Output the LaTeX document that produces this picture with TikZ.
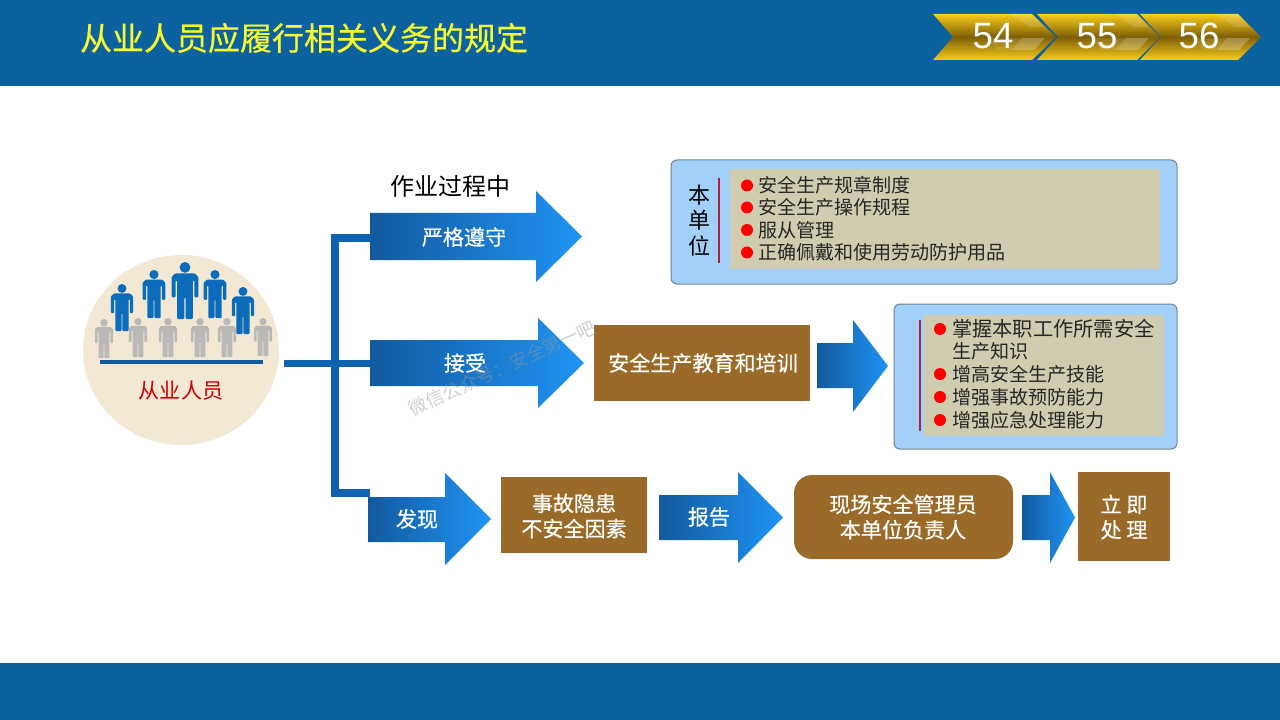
\documentclass[tikz,border=0pt]{standalone}
\usepackage{fontspec}
\setmainfont{Noto Sans CJK SC}
\newfontfamily\numfont{Liberation Sans}
\newfontfamily\heavycjk[FakeBold=0.45]{Noto Sans CJK SC}
\usetikzlibrary{calc,shapes.geometric}
\definecolor{barblue}{HTML}{0B629F}
\definecolor{titley}{HTML}{F8FA30}
\definecolor{adark}{HTML}{125A9E}
\definecolor{alight}{HTML}{2094F4}
\definecolor{brownbox}{HTML}{9A6A28}
\definecolor{panelblue}{HTML}{A2D0F8}
\definecolor{panelline}{HTML}{708496}
\definecolor{khaki}{HTML}{D0CCB0}
\definecolor{redline}{HTML}{B0203C}
\definecolor{beige}{HTML}{F2E8D3}
\definecolor{manblue}{HTML}{0A6CBA}
\definecolor{mangray}{HTML}{BBB9B8}
\definecolor{busblue}{HTML}{0F62B0}
\definecolor{goldA}{HTML}{F8CC1A}
\definecolor{goldB}{HTML}{7E5F06}
\tikzset{
  plain/.style={inner sep=0pt,outer sep=0pt},
  listtext/.style={plain,anchor=west,text=black!85,font=\fontsize{14.3}{16}\selectfont},
  whitetext/.style={plain,text=white,align=center,font=\heavycjk\fontsize{15.8}{19}\selectfont},
  brownrect/.style={fill=brownbox},
  panel/.style={fill=panelblue,draw=panelline,line width=0.75pt,rounded corners=4.5pt},
  bullet/.style={circle,fill=red,minimum size=9pt,inner sep=0pt},
  redrule/.style={draw=redline,line width=1.4pt},
  bus/.style={draw=busblue,line width=5.8pt},
  gold/.style={top color=goldA,bottom color=goldA,middle color=goldB},
  numtext/.style={plain,text=white,font=\numfont\fontsize{27.5}{30}\selectfont},
}
% x0 x1 headx ytop ybot bodytop bodybot
\newcommand{\blockarrow}[7]{%
  \shade[left color=adark,right color=alight]
    (#1,#6) -- (#3,#6) -- (#3,#4) -- (#2,{(#4+#5)/2}) -- (#3,#5) -- (#3,#7) -- (#1,#7) -- cycle;}
% x top height colour
\newcommand{\person}[4]{%
  \begin{scope}[shift={(#1,#2)},x=#3*0.75pt,y=-#3*0.75pt]
    \fill[#4] (0,0.095) circle[radius=0.095];
    \fill[#4,rounded corners=0.02*#3*0.75pt] (-0.235,0.62) -- (-0.235,0.26) -- (-0.17,0.2) -- (0.17,0.2) -- (0.235,0.26) -- (0.235,0.62) -- (0.165,0.62) -- (0.165,0.32) -- (0.14,0.32) -- (0.14,1) -- (0.01,1) -- (0.01,0.62) -- (-0.01,0.62) -- (-0.01,1) -- (-0.14,1) -- (-0.14,0.32) -- (-0.165,0.32) -- (-0.165,0.62) -- cycle;
  \end{scope}}
% left notch right tip
\newcommand{\chevron}[4]{%
  \shade[gold] (#1,14) -- (#3,14) -- (#4,37) -- (#3,60) -- (#1,60) -- (#2,37) -- cycle;
  \fill[white,fill opacity=0.10] ($(#4,38)+(-70,0)$) -- ($(#4,38)+(-11,0)$) -- ($(#4,38)+(-22,12)$) -- ($(#4,38)+(-58,12)$) -- cycle;
  \fill[white,fill opacity=0.16] ($(#4,38)+(-34,0)$) -- ($(#4,38)+(-11,0)$) -- ($(#4,38)+(-22,12)$) -- ($(#4,38)+(-44,12)$) -- cycle;
  \fill[white,fill opacity=0.14] ($(#3,14)+(-22,0)$) -- (#3,14) -- ($(#4,37)+(-12,-10)$) -- ($(#4,37)+(-26,-10)$) -- cycle;}
\begin{document}
\begin{tikzpicture}[x=0.75pt,y=-0.75pt]
\useasboundingbox (0,0) rectangle (1280,720);
\fill[white] (0,0) rectangle (1280,720);
\fill[barblue] (0,0) rectangle (1280,86);
\fill[barblue] (0,663) rectangle (1280,720);
\node[plain,anchor=west,text=titley,font=\heavycjk\fontsize{24}{28}\selectfont] (title) at (80,38) {从业人员应履行相关义务的规定};
% chevrons
\chevron{933}{953}{1032}{1056}
\chevron{1037}{1058}{1137}{1160}
\chevron{1140}{1161}{1238}{1261}
\node[numtext] (n54) at (993,36) {54};
\node[numtext] (n55) at (1097,36) {55};
\node[numtext] (n56) at (1199,36) {56};
% crowd
\node[ellipse,fill=beige,minimum width=147pt,minimum height=142.5pt,inner sep=0pt] (crowd) at (181,350) {};
\person{104}{319}{39}{mangray}
\person{138}{318}{39}{mangray}
\person{168}{318}{39}{mangray}
\person{200}{318}{39}{mangray}
\person{227}{318}{39}{mangray}
\person{263}{318}{38}{mangray}
\person{122}{284}{47}{manblue}
\person{154}{270}{48}{manblue}
\person{185}{262}{57}{manblue}
\person{215}{270}{48}{manblue}
\person{243}{287}{47}{manblue}
\draw[draw=adark,line width=2.4pt] (100,362) -- (263,362);
\node[plain,text=red!80!black,font=\fontsize{15.8}{18}\selectfont] (crowdlabel) at (181,391) {从业人员};
% bus
\coordinate (busL) at (284,363.5);
\coordinate (busM) at (335,363.5);
\coordinate (busA) at (370,238);
\coordinate (busB) at (370,363.5);
\coordinate (busC) at (370,493);
\draw[bus] (busL) -- (busB);
\draw[bus] (busA) -| (busM) |- (busC);
% arrows
\blockarrow{370}{582}{536}{191}{282}{213}{260}
\blockarrow{370}{584}{538}{318}{408}{340}{386}
\blockarrow{368}{491}{445}{473}{565}{497}{542}
\blockarrow{817}{888}{853}{320}{412}{343}{388}
\blockarrow{659}{783}{738}{472}{563}{495}{540}
\blockarrow{1022}{1075}{1050}{472}{563}{495}{540}
\node[plain,text=black,font=\fontsize{18}{20}\selectfont] (during) at (450,186) {作业过程中};
\node[whitetext] (t1) at (464,237) {严格遵守};
\node[whitetext] (t2) at (465,363) {接受};
\node[whitetext] (t3) at (417,519) {发现};
\node[whitetext] (t4) at (709,517) {报告};
% brown boxes
\fill[brownrect] (594,325) rectangle (810,401);
\node[whitetext] (edu) at (703,363) {安全生产教育和培训};
\fill[brownrect] (501,477) rectangle (647,553);
\node[whitetext] (hazard) at (574,516) {事故隐患\\不安全因素};
\fill[brownrect,rounded corners=13.5pt] (794,475) rectangle (1013,559);
\node[whitetext] (mgr) at (903,517) {现场安全管理员\\本单位负责人};
\fill[brownrect] (1078,472) rectangle (1170,561);
\node[whitetext] (now) at (1124,517) {立 即\\处 理};
% panel 1
\draw[panel] (671,160) rectangle (1177,284);
\fill[khaki] (730,169) rectangle (1160,269);
\draw[redrule] (719,178) -- (719,263);
\node[plain,text=black,font=\fontsize{16.5}{18}\selectfont] (ben) at (699,195) {本};
\node[plain,text=black,font=\fontsize{16.5}{18}\selectfont] (dan) at (699,220) {单};
\node[plain,text=black,font=\fontsize{16.5}{18}\selectfont] (wei) at (699,246) {位};
\node[bullet] (b1) at (747,185.5) {};
\node[bullet] (b2) at (747,207.5) {};
\node[bullet] (b3) at (747,230) {};
\node[bullet] (b4) at (747,252.5) {};
\node[listtext] (l1) at (758,185) {安全生产规章制度};
\node[listtext] (l2) at (758,207) {安全生产操作规程};
\node[listtext] (l3) at (758,230) {服从管理};
\node[listtext] (l4) at (758,252) {正确佩戴和使用劳动防护用品};
% panel 2
\draw[panel] (894,304) rectangle (1177,449);
\fill[khaki] (924,315) rectangle (1164,436);
\draw[redrule] (920,320) -- (920,431);
\node[bullet] (c1) at (940,329) {};
\node[bullet] (c2) at (940,374) {};
\node[bullet] (c3) at (940,397) {};
\node[bullet] (c4) at (940,420) {};
\node[listtext,font=\fontsize{15.2}{16}\selectfont] (m1) at (952,329) {掌握本职工作所需安全};
\node[listtext] (m1b) at (952,351) {生产知识};
\node[listtext] (m2) at (952,374) {增高安全生产技能};
\node[listtext] (m3) at (952,397) {增强事故预防能力};
\node[listtext] (m4) at (952,420) {增强应急处理能力};
% watermark
\node[plain,rotate=24.5,text=black!40,text opacity=0.45,font=\fontsize{13.8}{15}\selectfont] (mark) at (502,368) {微信公众号：安全第一吧};
\end{tikzpicture}
\end{document}
